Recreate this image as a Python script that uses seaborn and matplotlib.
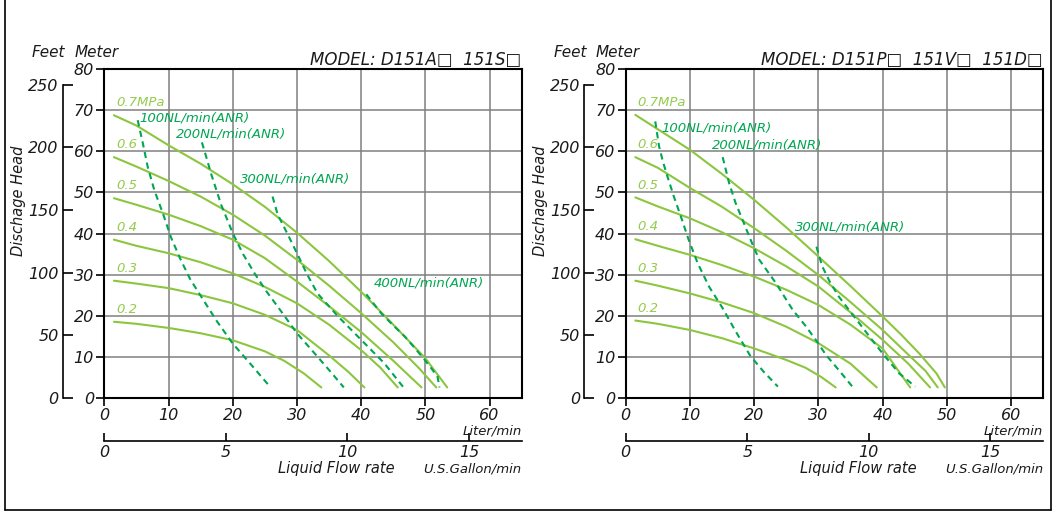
import numpy as np
import pandas as pd
import matplotlib
matplotlib.use("Agg")
import matplotlib.pyplot as plt
from matplotlib.lines import Line2D
import seaborn as sns

# ---------------- data ----------------
mpa_labels = ["0.7MPa", "0.6", "0.5", "0.4", "0.3", "0.2"]

# Left chart: MODEL D151A / 151S
a_mpa_flow = [
    [1.5, 5, 10, 15, 20, 25, 30, 35, 40, 45, 50, 53.4],
    [1.5, 5, 10, 15, 20, 25, 30, 35, 40, 45, 49, 51.7],
    [1.5, 5, 10, 15, 20, 25, 30, 35, 40, 45, 49.4],
    [1.5, 5, 10, 15, 20, 25, 30, 35, 40, 43, 45.7],
    [1.5, 5, 10, 15, 20, 25, 30, 35, 38, 40.5],
    [1.5, 5, 10, 15, 20, 25, 28, 31, 33.8],
]
a_mpa_head = [
    [68.8, 66.3, 61.5, 57.0, 52.0, 46.5, 40.2, 33.3, 25.8, 17.8, 9.6, 2.5],
    [58.6, 56.3, 52.8, 49.0, 44.6, 39.5, 33.6, 27.3, 20.6, 13.5, 7.2, 2.5],
    [48.6, 47.0, 44.6, 41.8, 38.5, 34.0, 28.3, 22.3, 16.0, 9.0, 2.5],
    [38.5, 37.0, 35.2, 33.0, 30.3, 27.0, 23.0, 17.8, 11.6, 7.3, 2.5],
    [28.5, 27.8, 26.7, 25.0, 23.0, 20.2, 16.5, 10.3, 6.3, 2.5],
    [18.5, 18.0, 17.0, 15.7, 14.0, 11.3, 9.0, 6.0, 2.5],
]
a_air_labels = ["100NL/min(ANR)", "200NL/min(ANR)", "300NL/min(ANR)", "400NL/min(ANR)"]
a_air_flow = [
    [5.2, 6.0, 6.75, 7.8, 9.1, 10.4, 11.9, 13.4, 15.1, 17.5, 20.0, 23.0, 25.9],
    [15.2, 16.0, 16.6, 18.2, 20.0, 21.6, 23.4, 25.2, 27.0, 30.0, 33.2, 35.3, 37.3],
    [26.2, 27.0, 28.5, 30.0, 31.6, 33.2, 36.4, 40.0, 43.6, 46.6],
    [40.8, 43.1, 45.0, 46.8, 48.4, 49.9, 51.0, 51.9, 52.2],
]
a_air_head = [
    [67.6, 62.0, 56.3, 50.5, 45.0, 39.0, 33.6, 28.8, 24.6, 18.7, 13.2, 7.8, 2.5],
    [62.2, 58.0, 54.7, 47.0, 40.1, 35.0, 30.3, 26.0, 22.2, 15.7, 10.0, 6.2, 2.5],
    [49.0, 44.6, 40.0, 35.2, 30.0, 25.4, 19.8, 14.1, 8.4, 2.5],
    [25.2, 20.6, 17.6, 14.9, 12.0, 9.2, 7.0, 5.1, 2.5],
]

# Right chart: MODEL D151P / 151V / 151D
b_mpa_flow = [
    [1.5, 5, 10, 15, 20, 25, 30, 35, 40, 43, 45.7, 48.4, 49.7],
    [1.5, 5, 10, 15, 20, 25, 30, 35, 40, 44, 46.7, 48.6],
    [1.5, 5, 10, 15, 20, 25, 30, 35, 40, 44, 47.4],
    [1.5, 5, 10, 15, 20, 25, 30, 35, 40, 44.3],
    [1.5, 5, 10, 15, 20, 25, 30, 35, 39.1],
    [1.5, 5, 10, 15, 20, 25, 28, 30.5, 32.7],
]
b_mpa_head = [
    [68.9, 65.4, 60.4, 54.5, 48.2, 41.5, 34.4, 27.2, 19.8, 15.2, 10.8, 5.9, 2.5],
    [58.6, 56.0, 51.1, 46.5, 41.3, 35.8, 29.9, 23.3, 16.5, 10.5, 6.5, 2.5],
    [48.8, 46.6, 43.7, 40.3, 36.4, 32.0, 27.1, 20.8, 14.1, 8.3, 2.5],
    [38.6, 37.0, 34.8, 32.3, 29.5, 26.3, 22.6, 17.8, 12.0, 2.5],
    [28.5, 27.3, 25.4, 23.2, 20.6, 17.3, 13.3, 8.3, 2.5],
    [18.8, 18.0, 16.5, 14.5, 12.0, 9.2, 7.3, 5.0, 2.5],
]
b_air_labels = ["100NL/min(ANR)", "200NL/min(ANR)", "300NL/min(ANR)"]
b_air_flow = [
    [4.6, 5.2, 5.8, 6.5, 7.5, 8.6, 9.8, 11.2, 13.0, 15.1, 17.0, 19.4, 21.5, 23.7],
    [15.1, 16.1, 17.1, 18.2, 19.5, 20.8, 23.4, 26.0, 28.0, 29.6, 31.2, 33.3, 35.3],
    [29.7, 30.6, 31.8, 33.2, 34.8, 36.4, 38.2, 40.0, 42.6, 45.1],
]
b_air_head = [
    [67.3, 61.2, 57.5, 53.9, 49.0, 44.1, 38.5, 32.8, 27.0, 21.8, 16.5, 10.2, 6.3, 2.7],
    [58.6, 52.3, 47.5, 43.3, 38.3, 33.6, 27.9, 21.4, 17.5, 14.1, 10.4, 6.5, 2.7],
    [36.8, 32.0, 28.2, 24.6, 21.3, 18.1, 14.4, 10.8, 5.9, 2.7],
]

titles = ["MODEL: D151A\u25a1  151S\u25a1", "MODEL: D151P\u25a1  151V\u25a1  151D\u25a1"]
meter_ticks = [0, 10, 20, 30, 40, 50, 60, 70, 80]
feet_ticks = [0, 50, 100, 150, 200, 250]
liter_ticks = [0, 10, 20, 30, 40, 50, 60]
gallon_ticks = [0, 5, 10, 15]

# ---------------- layout / style ----------------
a_air_label_pos = [(5.4, 68.1), (11.1, 64.2), (21.2, 53.2), (41.9, 27.9)]
b_air_label_pos = [(5.5, 65.8), (13.4, 61.6), (26.3, 41.7)]

LIGHT = "#8cc63f"
DARK = "#00a651"
GRID = "#808080"
TXT = "#1a1a1a"

sns.set_theme(style="white")
plt.rcParams["font.family"] = ["DejaVu Sans"]
plt.rcParams["font.style"] = "italic"
plt.rcParams["axes.edgecolor"] = "black"
plt.rcParams["text.color"] = TXT
plt.rcParams["xtick.color"] = "black"
plt.rcParams["ytick.color"] = "black"
plt.rcParams["xtick.labelcolor"] = TXT
plt.rcParams["ytick.labelcolor"] = TXT

W, H = 1055, 513
fig = plt.figure(figsize=(W / 100, H / 100), dpi=100)
fig.patch.set_facecolor("white")

M2FT = 3.28084
L2GAL = 1 / 3.78541


def to_df(flows, heads):
    rows = []
    for i, (fx, hy) in enumerate(zip(flows, heads)):
        for x, y in zip(fx, hy):
            rows.append({"curve": i, "flow": x, "head": y})
    return pd.DataFrame(rows)


def make_panel(left_px, mpa_flow, mpa_head, air_flow, air_head, air_labels, air_pos, title):
    ax = fig.add_axes([left_px / W, 1 - 397.7 / H, 417.4 / W, 328.4 / H])
    ax.set_facecolor("white")

    df_m = to_df(mpa_flow, mpa_head)
    df_a = to_df(air_flow, air_head)
    sns.lineplot(data=df_m, x="flow", y="head", units="curve", estimator=None,
                 sort=False, color=LIGHT, lw=1.5, legend=False, ax=ax, zorder=3)
    sns.lineplot(data=df_a, x="flow", y="head", units="curve", estimator=None,
                 sort=False, color=DARK, lw=1.5, linestyle=(0, (3.0, 2.2)),
                 legend=False, ax=ax, zorder=4)

    ax.set_xlim(0, 65)
    ax.set_ylim(0, 80)
    ax.set_xticks(liter_ticks)
    ax.set_yticks(meter_ticks)
    ax.grid(True, color=GRID, lw=1.1)
    ax.set_axisbelow(True)
    for s in ax.spines.values():
        s.set_visible(True)
        s.set_color("black")
        s.set_linewidth(1.5)
    ax.tick_params(axis="both", direction="out", length=6, width=1.2,
                   labelsize=11.5, pad=1.5, bottom=True, left=True)
    ax.set_xlabel("")
    ax.set_ylabel("")

    for lab, hy in zip(mpa_labels, mpa_head):
        ax.text(1.8, hy[0] + 3.0, lab, color="#95cb4f", fontsize=9.5,
                va="center", ha="left", zorder=5)
    for lab, (px, py) in zip(air_labels, air_pos):
        ax.text(px, py, lab, color=DARK, fontsize=9.5, va="center", ha="left", zorder=5)

    sec_y = ax.secondary_yaxis(-0.099, functions=(lambda m: m * M2FT, lambda f: f / M2FT))
    sec_y.set_yticks(feet_ticks)
    sec_y.spines["left"].set_bounds(0, 250)
    sec_y.spines["left"].set_linewidth(1.2)
    sec_y.spines["left"].set_color("black")
    sec_y.tick_params(direction="in", length=7, width=1.2, labelsize=11.5, pad=3)

    sec_x = ax.secondary_xaxis(-0.132, functions=(lambda l: l * L2GAL, lambda g: g / L2GAL))
    sec_x.set_xticks(gallon_ticks)
    sec_x.spines["bottom"].set_linewidth(1.2)
    sec_x.spines["bottom"].set_color("black")
    sec_x.tick_params(direction="in", length=6, width=1.2, labelsize=11.5, pad=3)

    ax.text(1.0, 1.028, title, transform=ax.transAxes, ha="right", va="center",
            fontsize=12)
    ax.text(-0.173, 1.0505, "Feet", transform=ax.transAxes, ha="left",
            va="center", fontsize=11)
    ax.text(-0.071, 1.0505, "Meter", transform=ax.transAxes, ha="left",
            va="center", fontsize=11)
    ax.text(-0.205, 0.60, "Dischage Head", transform=ax.transAxes, rotation=90,
            ha="center", va="center", fontsize=10.5)
    ax.text(1.0, -0.101, "Liter/min", transform=ax.transAxes, ha="right",
            va="center", fontsize=9.5)
    ax.text(0.557, -0.216, "Liquid Flow rate", transform=ax.transAxes, ha="center",
            va="center", fontsize=10.5)
    ax.text(1.0, -0.216, "U.S.Gallon/min", transform=ax.transAxes, ha="right",
            va="center", fontsize=9.5)
    return ax


make_panel(104.3, a_mpa_flow, a_mpa_head, a_air_flow, a_air_head,
           a_air_labels, a_air_label_pos, titles[0])
make_panel(625.7, b_mpa_flow, b_mpa_head, b_air_flow, b_air_head,
           b_air_labels, b_air_label_pos, titles[1])

fx0, fx1 = 4.5 / W, 1050.5 / W
fyb = 1 - 509.5 / H
for xs, ys in [([fx0, fx0], [fyb, 1.0]), ([fx1, fx1], [fyb, 1.0]), ([fx0, fx1], [fyb, fyb])]:
    fig.add_artist(Line2D(xs, ys, color="black", lw=1.2, transform=fig.transFigure))

fig.savefig("out.png", dpi=100, facecolor="white")
